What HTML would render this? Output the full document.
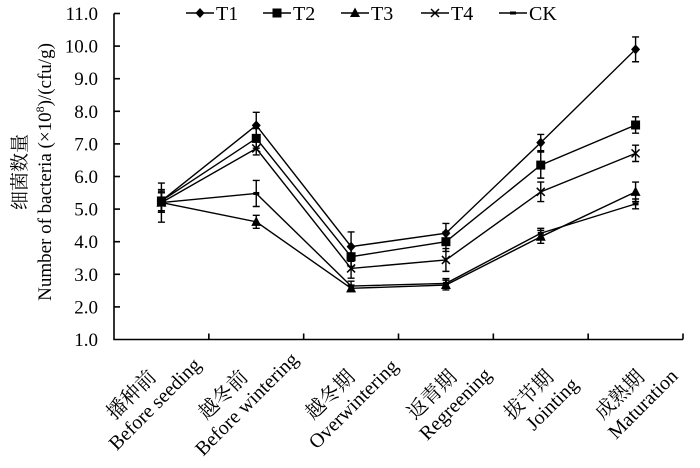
<!DOCTYPE html>
<html><head><meta charset="utf-8"><style>
html,body{margin:0;padding:0;background:#fff}
svg{display:block}
text{font-family:"Liberation Serif","Noto Serif CJK SC",serif;fill:#000}
</style></head><body>
<svg id="chart" width="700" height="468" viewBox="0 0 700 468" xmlns="http://www.w3.org/2000/svg"></svg>
<script>
const categoriesCn = ["播种前","越冬前","越冬期","返青期","拔节期","成熟期"];
const categoriesEn = ["Before seeding","Before wintering","Overwintering","Regreening","Jointing","Maturation"];
const seriesNames = ["T1","T2","T3","T4","CK"];
const t1Values = [5.25,7.57,3.85,4.26,7.04,9.9];
const t2Values = [5.25,7.17,3.54,4.0,6.35,7.58];
const t3Values = [5.2,4.61,2.57,2.67,4.15,5.53];
const t4Values = [5.2,6.86,3.18,3.44,5.53,6.71];
const ckValues = [5.2,5.48,2.64,2.72,4.26,5.16];
const t1Err = [0.35,0.4,0.45,0.3,0.25,0.38];
const t2Err = [0.3,0.3,0.3,0.3,0.4,0.25];
const t3Err = [0.3,0.2,0.1,0.15,0.2,0.3];
const t4Err = [0.3,0.2,0.3,0.35,0.3,0.25];
const ckErr = [0.6,0.4,0.15,0.15,0.15,0.15];
const yTicks = ["1.0","2.0","3.0","4.0","5.0","6.0","7.0","8.0","9.0","10.0","11.0"];

const NS="http://www.w3.org/2000/svg";
const svg=document.getElementById('chart');
const L=114,R=683,T=13.5,B=339.5,YMIN=1,YMAX=11;
const n=categoriesCn.length, cw=(R-L)/n;
const xS=i=>L+cw*(i+0.5);
const yS=v=>B-(v-YMIN)/(YMAX-YMIN)*(B-T);
function mk(tag,attrs,parent){const e=document.createElementNS(NS,tag);for(const k in attrs)e.setAttribute(k,attrs[k]);(parent||svg).appendChild(e);return e;}

const axes=mk('g',{stroke:'#000','stroke-width':1.6,fill:'none'});


mk('path',{d:`M${L},${T} V${B} H${R}`},axes);
yTicks.forEach((t,i)=>{
  const v=parseFloat(t), y=yS(v);
  if(i>0) mk('line',{x1:L,y1:y,x2:L+6,y2:y},axes);
  const tx=mk('text',{x:98,y:y+6.5,'text-anchor':'end','font-size':19});
  tx.textContent=t;
  
  
});
for(let i=1;i<=n;i++){const x=L+cw*i;mk('line',{x1:x,y1:B,x2:x,y2:B-6},axes);}

const dxs=[-24,-27,-15,-8,-6,-10];
categoriesCn.forEach((c,i)=>{
  const g=mk('g',{transform:`translate(${xS(i)+dxs[i]},${398}) rotate(-45)`});
  
  
  const a=mk('text',{x:-2,y:0,'text-anchor':'middle','font-size':20},g);a.textContent=c;
  const b=mk('text',{x:8,y:23,'text-anchor':'middle','font-size':20},g);b.textContent=categoriesEn[i];
});

const yt=mk('g',{transform:'translate(0,172) rotate(-90)'});


const y1=mk('text',{x:0,y:26,'text-anchor':'middle','font-size':19},yt);y1.textContent="细菌数量";
const y2=mk('text',{x:0,y:51,'text-anchor':'middle','font-size':19},yt);
y2.innerHTML='Number of bacteria (×10<tspan dy="-7" font-size="12">8</tspan><tspan dy="7">)/(cfu/g)</tspan>';

function marker(type,x,y,g){
  if(type==='T1') mk('path',{d:`M${x},${y-5} L${x+4.5},${y} L${x},${y+5} L${x-4.5},${y}Z`,fill:'#000'},g);
  else if(type==='T2') mk('rect',{x:x-4.5,y:y-4.5,width:9,height:9,fill:'#000'},g);
  else if(type==='T3') mk('path',{d:`M${x},${y-5.5} L${x+5},${y+4} L${x-5},${y+4}Z`,fill:'#000'},g);
  else if(type==='T4') mk('path',{d:`M${x-4},${y-4} L${x+4},${y+4} M${x+4},${y-4} L${x-4},${y+4}`,stroke:'#000','stroke-width':1.5},g);
  else mk('rect',{x:x-3,y:y-1.5,width:6,height:3,fill:'#000'},g);
}
const allVals=[t1Values,t2Values,t3Values,t4Values,ckValues];
const allErr=[t1Err,t2Err,t3Err,t4Err,ckErr];
seriesNames.forEach((s,si)=>{
  const g=mk('g',{});
  
  
  const vals=allVals[si], err=allErr[si];
  mk('polyline',{points:vals.map((v,i)=>`${xS(i)},${yS(v)}`).join(' '),fill:'none',stroke:'#000','stroke-width':1.4},g);
  vals.forEach((v,i)=>{
    const x=xS(i),y0=yS(v+err[i]),y1=yS(v-err[i]);
    mk('path',{d:`M${x},${y0} V${y1} M${x-3.5},${y0} H${x+3.5} M${x-3.5},${y1} H${x+3.5}`,stroke:'#000','stroke-width':1.4,fill:'none'},g);
    marker(s,x,yS(v),g);
  });
});

const lx=[186,263,341,421,499];
seriesNames.forEach((s,i)=>{
  const g=mk('g',{});
  
  
  mk('line',{x1:lx[i],y1:13,x2:lx[i]+28,y2:13,stroke:'#000','stroke-width':1.4},g);
  marker(s,lx[i]+14,13,g);
  const t=mk('text',{x:lx[i]+30,y:20,'font-size':20},g);t.textContent=s;
});
</script>
</body></html>
